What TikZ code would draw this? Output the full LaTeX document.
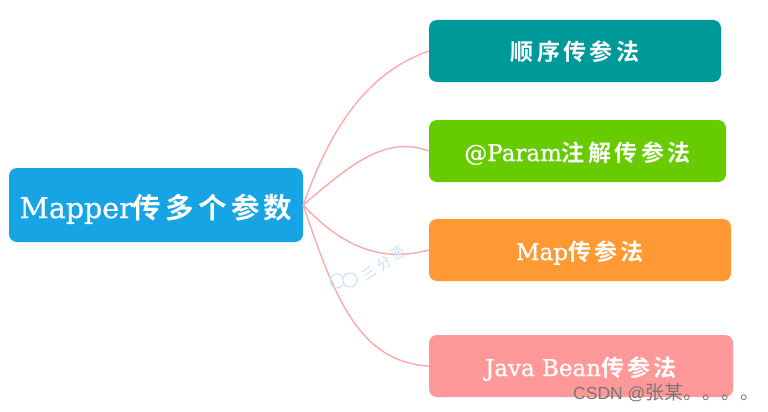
\documentclass[tikz,border=0pt]{standalone}
\usepackage{fontspec}
\usepackage{xcolor}
\setmainfont{DejaVu Serif}[RawFeature={embolden=0.7}]
\newfontfamily\cjk{Noto Sans CJK SC}[BoldFont={Noto Sans CJK SC Bold}, LetterSpace=15]
\newfontfamily\wmfont{Noto Sans CJK SC}[LetterSpace=25]
\newfontfamily\csdnfont{Noto Sans CJK SC}
\newfontfamily\marksans{Liberation Sans}
\definecolor{rootblue}{HTML}{17A4E5}
\definecolor{teal}{HTML}{009999}
\definecolor{leafgreen}{HTML}{66CC00}
\definecolor{orange}{HTML}{FF9933}
\definecolor{pink}{HTML}{FF9999}
\definecolor{branch}{HTML}{FFA8A8}
\definecolor{wmblue}{HTML}{C4E0FA}
\definecolor{wmgrey}{HTML}{777777}
\newcommand{\zh}[1]{{\cjk\bfseries #1}}
\newcommand{\low}[2]{\raisebox{-#1pt}[0pt][0pt]{#2}}
\tikzset{
  topic/.style={rounded corners=8pt, text=white, align=center, inner sep=0pt},
  root/.style={topic, fill=rootblue, minimum width=294pt, minimum height=74pt, font=\fontsize{28.5}{32}\selectfont},
  leaf/.style={topic, minimum height=62pt, font=\fontsize{23}{26}\selectfont},
  link/.style={line width=1.4pt, draw=branch},
  wmark/.style={text=wmblue, font=\fontsize{14}{16}\selectfont},
}
\begin{document}
\begin{tikzpicture}[x=1pt,y=-1pt]
  \useasboundingbox (0,0) rectangle (768,412);

  \node[root] (mapper) at (156,205) {\low{13}{Mapper\zh{传多个参数}}};

  \node[leaf, fill=teal, minimum width=292pt] (order) at (575,51) {\low{10}{\zh{顺序传参法}}};
  \node[leaf, fill=leafgreen, minimum width=297pt] (param) at (577.5,151) {\low{10}{@Param\zh{注解传参法}}};
  \node[leaf, fill=orange, minimum width=302pt] (map) at (580,250) {\low{10}{Map\zh{传参法}}};
  \node[leaf, fill=pink, minimum width=304pt] (bean) at (581,366) {\low{10}{Java Bean\zh{传参法}}};

  \draw[link] (mapper.east) .. controls (335,115) and (375,70) .. (order.west);
  \draw[link] (mapper.east) .. controls (350,165) and (385,135) .. (param.west);
  \draw[link] (mapper.east) .. controls (345,250) and (385,262) .. (map.west);
  \draw[link] (mapper.east) .. controls (335,300) and (360,362) .. (bean.west);

  % watermark over the branches
  \draw[wmblue, line width=0.9pt] (337,281) circle (7);
  \draw[wmblue, line width=0.9pt, fill=white] (350,280) circle (7);
  \node[wmark, rotate=35] (sanfen) at (384,263) {\wmfont 三分恶};

  \node[text=wmgrey, anchor=west, inner sep=0pt] (csdn) at (573,393)
    {\marksans\fontsize{17.5}{20}\selectfont CSDN @\csdnfont\fontsize{19}{20}\selectfont 张某。。。。};
\end{tikzpicture}
\end{document}
